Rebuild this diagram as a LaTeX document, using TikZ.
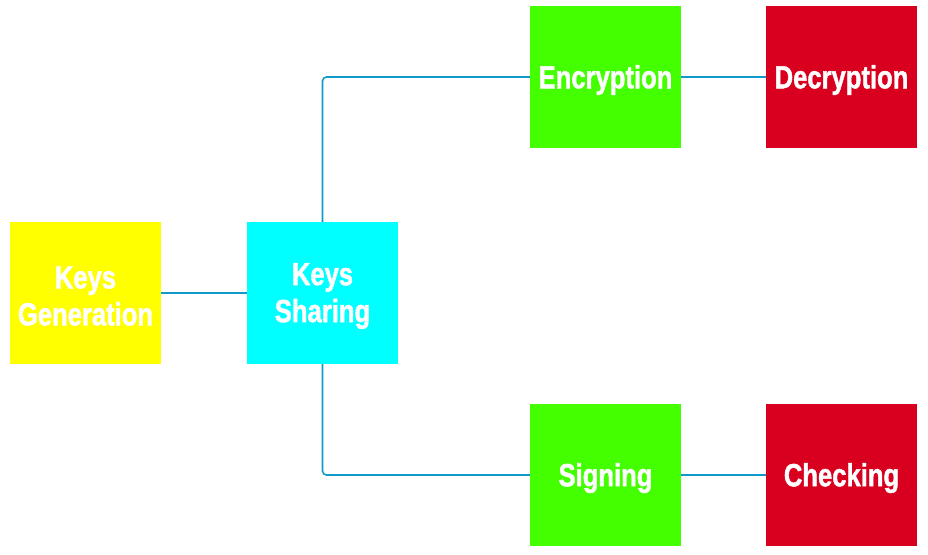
\documentclass[tikz,border=0pt]{standalone}
\usepackage{fontspec}
\setmainfont{Liberation Sans}[BoldFeatures={FakeBold=1.6}]
\newcommand{\imp}[1]{\raisebox{-3pt}[\height][\depth]{\scalebox{0.8}[1]{\bfseries #1}}}
\begin{document}
\begin{tikzpicture}[x=1pt,y=-1pt,
  box/.style={minimum width=151pt,minimum height=142pt,inner sep=0pt,text=white,font=\fontsize{32}{37}\selectfont,align=center},
  link/.style={draw={rgb,255:red,17;green,153;blue,204},line width=1.6pt,rounded corners=4pt}]
\definecolor{cyel}{RGB}{255,255,0}
\definecolor{ccya}{RGB}{0,255,255}
\definecolor{cgre}{RGB}{68,255,0}
\definecolor{cred}{RGB}{217,0,31}
\useasboundingbox (0,0) rectangle (928,554);
\node[box,fill=cyel] (gen) at (85.5,293) {\imp{Keys}\\\imp{Generation}};
\node[box,fill=ccya] (sha) at (322.5,293) {\imp{Keys}\\\imp{Sharing}};
\node[box,fill=cgre] (enc) at (605.5,77) {\imp{Encryption}};
\node[box,fill=cred] (dec) at (841.5,77) {\imp{Decryption}};
\node[box,fill=cgre] (sig) at (605.5,475) {\imp{Signing}};
\node[box,fill=cred] (che) at (841.5,475) {\imp{Checking}};
\draw[link] (gen.east) -- (sha.west);
\draw[link] (sha.north) |- (enc.west);
\draw[link] (sha.south) |- (sig.west);
\draw[link] (enc.east) -- (dec.west);
\draw[link] (sig.east) -- (che.west);
\end{tikzpicture}
\end{document}
